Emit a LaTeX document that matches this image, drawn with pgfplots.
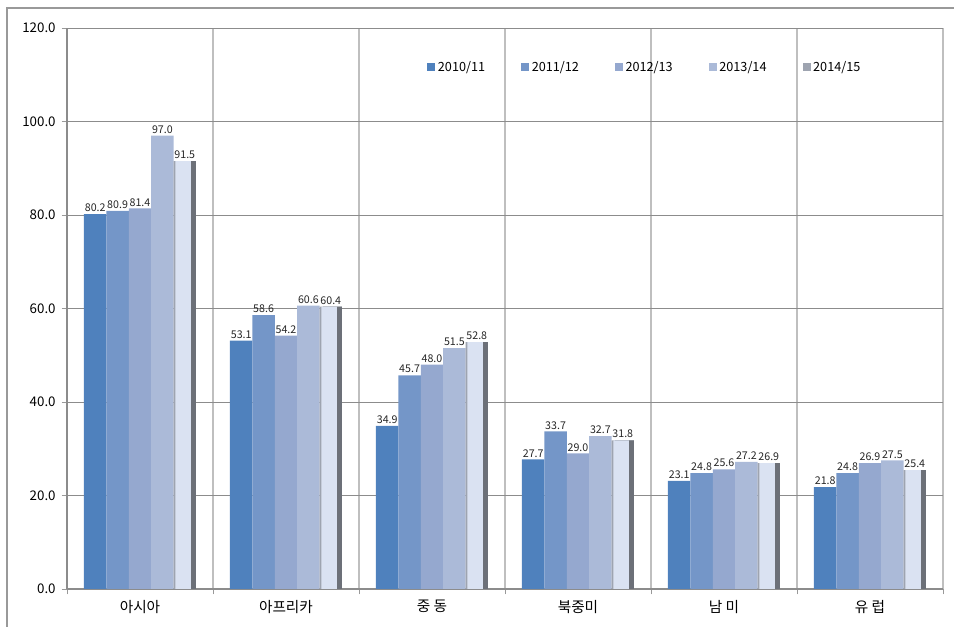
\documentclass[border=0pt]{standalone}
\usepackage{pgfplots}
\pgfplotsset{compat=1.18}
\usepackage{fontspec}
\setmainfont{Noto Sans CJK KR}

\definecolor{c1}{RGB}{79,129,189}
\definecolor{c2}{RGB}{116,150,200}
\definecolor{c3}{RGB}{149,168,207}
\definecolor{c4}{RGB}{171,186,216}
\definecolor{bvD}{RGB}{108,112,120}
\definecolor{bvL}{RGB}{158,164,176}
\definecolor{bvM}{RGB}{218,226,242}

\pgfplotstableread{
x  a    b    c    d    e
0  80.2 80.9 81.4 97.0 91.5
1  53.1 58.6 54.2 60.6 60.4
2  34.9 45.7 48.0 51.5 52.8
3  27.7 33.7 29.0 32.7 31.8
4  23.1 24.8 25.6 27.2 26.9
5  21.8 24.8 26.9 27.5 25.4
}\datatable

\begin{document}
\begin{tikzpicture}
% page frame (1px = 0.75pt)
\path[use as bounding box] (-50.25pt,-28.5pt) rectangle (665.25pt,441.75pt);
\draw[gray!80, line width=0.8pt] (-45pt,-40pt) -- (-45pt,435.75pt) -- (700pt,435.75pt);

\begin{axis}[
  at={(0,0)}, anchor=south west,
  scale only axis, width=657pt, height=420.75pt,
  ybar, bar width=16.8pt,
  xmin=-0.5, xmax=5.5, ymin=0, ymax=120,
  xtick={0,...,5},
  xticklabels={아시아, 아프리카, 중 동, 북중미, 남 미, 유 럽},
  minor xtick={-0.5,0.5,...,5.5},
  ytick={0,20,...,120},
  major x tick style={draw=none},
  minor x tick style={gray!80},
  ytick style={gray!80},
  tick align=outside, major tick length=4pt, minor tick length=4pt,
  xminorgrids, ymajorgrids,
  minor x grid style={black!25, line width=1pt},
  major y grid style={black!45, line width=0.7pt},
  axis x line*=bottom, axis y line*=left,
  axis line style={black!45, line width=0.8pt},
  xticklabel style={font=\fontsize{11}{13}\selectfont, yshift=-1pt},
  yticklabel style={font=\fontsize{10}{12}\selectfont, xshift=-1pt},
  nodes near coords style={font=\fontsize{8}{9}\selectfont, text=black!85, inner sep=1.5pt,
    /pgf/number format/fixed, /pgf/number format/fixed zerofill, /pgf/number format/precision=1},
  legend columns=5,
  legend style={draw=none, fill=none, at={(0.66,0.93)}, anchor=center,
    font=\fontsize{9.5}{11}\selectfont,
    /tikz/every even column/.append style={column sep=25pt}},
  legend image code/.code={\path[#1] (0pt,-3pt) rectangle (6pt,3pt);},
  /pgf/number format/fixed, /pgf/number format/fixed zerofill,
  /pgf/number format/precision=1, /pgf/number format/assume math mode=true,
]
\addplot[fill=c1, draw=none, bar shift=-33.6pt, nodes near coords] table[x=x, y=a] {\datatable};
\addplot[fill=c2, draw=none, bar shift=-16.8pt, nodes near coords] table[x=x, y=b] {\datatable};
\addplot[fill=c3, draw=none, bar shift=0pt, nodes near coords] table[x=x, y=c] {\datatable};
\addplot[fill=c4, draw=none, bar shift=16.8pt, nodes near coords] table[x=x, y=d] {\datatable};
% 2014/15: bevelled bar built from three stacked layers of the same data
\addplot[fill=bvL, draw=none, bar shift=33.6pt, nodes near coords] table[x=x, y=e] {\datatable};
\addplot[fill=bvD, draw=none, bar shift=34.9pt, bar width=14.2pt, forget plot] table[x=x, y=e] {\datatable};
\addplot[fill=bvM, draw=none, bar shift=32.3pt, bar width=11.6pt, forget plot] table[x=x, y=e] {\datatable};
\legend{2010/11, 2011/12, 2012/13, 2013/14, 2014/15}
\end{axis}
\end{tikzpicture}
\end{document}
